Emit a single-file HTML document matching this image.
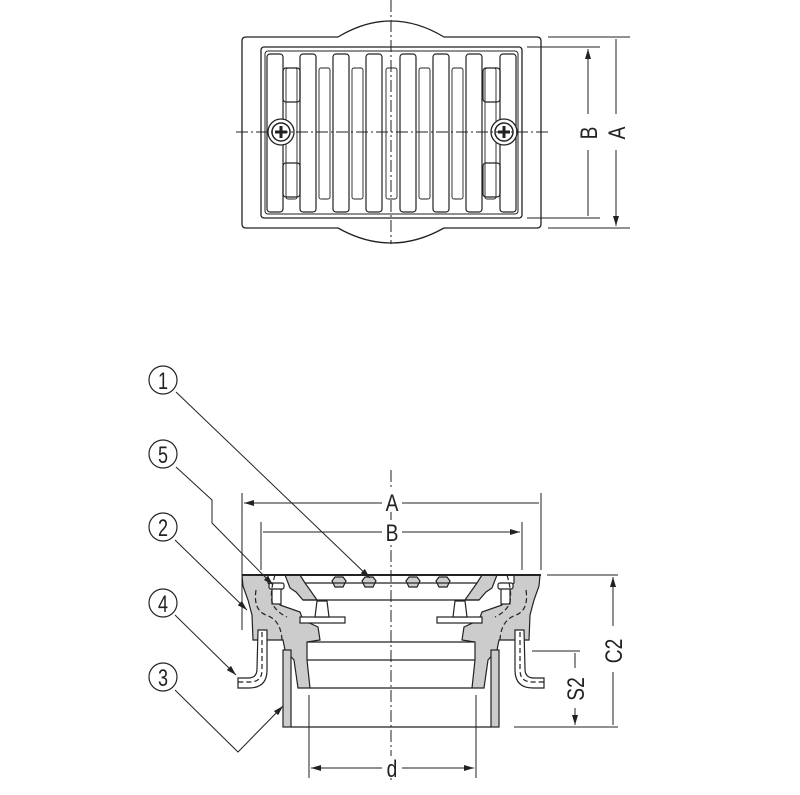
<!DOCTYPE html>
<html><head><meta charset="utf-8"><style>
html,body{margin:0;padding:0;background:#fff}
svg{display:block}
text{font-family:"Liberation Sans",sans-serif;fill:#222}
</style></head><body>
<svg width="800" height="795" viewBox="0 0 800 795" xmlns="http://www.w3.org/2000/svg">
<defs>
<marker id="ar" viewBox="0 0 10 6" refX="10" refY="3" markerWidth="10" markerHeight="6" orient="auto-start-reverse" markerUnits="userSpaceOnUse"><path d="M0,0L10,3L0,6z" fill="#222"/></marker>
</defs>
<g stroke="#222" stroke-width="1.3" fill="none">
<!-- TOP VIEW -->
<path d="M246,37 L338,37 Q391,5 444,37 L537,37 Q541,37 541,41 L541,224 Q541,228 537,228 L444,228 Q391,258 338,228 L246,228 Q242,228 242,224 L242,41 Q242,37 246,37Z"/>
<rect x="261" y="47" width="261" height="171" rx="3"/>
<rect x="265" y="51" width="253" height="163" rx="3" stroke-width="1"/>
<g stroke-width="1.2">
<rect x="267" y="54" width="16" height="158" rx="3"/>
<rect x="300" y="54" width="16" height="158" rx="3"/>
<rect x="333" y="54" width="16" height="158" rx="3"/>
<rect x="366" y="54" width="16" height="158" rx="3"/>
<rect x="400" y="54" width="16" height="158" rx="3"/>
<rect x="433" y="54" width="16" height="158" rx="3"/>
<rect x="466" y="54" width="16" height="158" rx="3"/>
<rect x="500" y="54" width="16" height="158" rx="3"/>
<rect x="286" y="68" width="11" height="131" rx="2" stroke-width="0.9"/>
<rect x="319" y="68" width="11" height="131" rx="2" stroke-width="0.9"/>
<rect x="352" y="68" width="11" height="131" rx="2" stroke-width="0.9"/>
<rect x="386" y="68" width="11" height="131" rx="2" stroke-width="0.9"/>
<rect x="419" y="68" width="11" height="131" rx="2" stroke-width="0.9"/>
<rect x="452" y="68" width="11" height="131" rx="2" stroke-width="0.9"/>
<rect x="485" y="68" width="11" height="131" rx="2" stroke-width="0.9"/>
<rect x="283" y="68" width="17" height="34" rx="3"/>
<rect x="283" y="163" width="17" height="34" rx="3"/>
<rect x="483" y="68" width="17" height="34" rx="3"/>
<rect x="483" y="163" width="17" height="34" rx="3"/>
</g>
<circle cx="281" cy="132" r="13" fill="#fff"/>
<circle cx="281" cy="132" r="9" stroke-width="1.5"/>
<path d="M275,132h12M281,126v12" stroke-width="3"/>
<circle cx="504" cy="132" r="13" fill="#fff"/>
<circle cx="504" cy="132" r="9" stroke-width="1.5"/>
<path d="M498,132h12M504,126v12" stroke-width="3"/>
<path d="M236,132H548M391,0V244" stroke-dasharray="12,3,2,3" stroke-width="1"/>
<path d="M527,47H600M548,37H630M527,218H600M548,228H630" stroke-width="1"/>
<path d="M588,49V216M616,39V226" marker-start="url(#ar)" marker-end="url(#ar)" stroke-width="1"/>
</g>
<rect x="580" y="114" width="16" height="36" fill="#fff"/>
<rect x="608" y="114" width="16" height="36" fill="#fff"/>
<text transform="translate(597,133) rotate(-90) scale(0.8,1)" font-size="24" text-anchor="middle">B</text>
<text transform="translate(625,133) rotate(-90) scale(0.8,1)" font-size="24" text-anchor="middle">A</text>

<!-- SECTION VIEW -->
<g id="half" stroke="#222" stroke-width="1.2">
<path fill="#ccc" d="M242,575 L268,575 L268,583 L275,590 L280,605 L300,612 L303,620 L318,627 L320,640 L307,642 L307,660 L310,688 L298,688 L294,660 L285,650 L283,640 L253,640 L252,615 L248,600 L243,586Z"/>
<path fill="#ccc" d="M285,575 L300,575 L305,583 L310,590 L317,600 L303,600 L296,592 L290,588Z"/>
<path fill="#ccc" d="M335,577l8,0 3,4 -3,6 -8,0 -3,-6zM365,577l8,0 3,4 -3,6 -8,0 -3,-6z"/>
<rect x="283" y="650" width="8" height="77" fill="#ccc"/>
<rect x="300" y="617" width="45" height="6" fill="#fff"/>
<path fill="#fff" d="M317,601l10,0 2,16 -14,0z"/>
<path fill="none" d="M305,583H391M303,600H391M307,642H391M307,660H391M310,688H391M291,727H391"/>
<rect x="272" y="586" width="9" height="18" fill="#fff"/>
<rect x="269" y="583" width="15" height="6" rx="2" fill="#fff"/>
<path fill="#fff" d="M258,630h9v40q0,18 -18,18h-11v-10h10q9,0 9,-9z"/>
<path fill="none" stroke-dasharray="5,3" d="M262,632v38q0,12 -12,12h-12M256,590q-3,20 10,25q15,5 16,25M275,575q-6,20 -2,30q5,8 14,12"/>
</g>
<use href="#half" transform="translate(782,0) scale(-1,1)"/>
<g stroke="#222" fill="none">
<path d="M242,575H541" stroke-width="2"/>
<path d="M391,470V780" stroke-dasharray="12,3,2,3" stroke-width="1"/>
<path d="M242,493V630M541,493V570M261,522V570M522,522V570" stroke-width="1"/>
<path d="M244,503H539M263,532H520" marker-start="url(#ar)" marker-end="url(#ar)" stroke-width="1"/>
<path d="M309,695V778M476,695V778" stroke-width="1"/>
<path d="M311,768H474" marker-start="url(#ar)" marker-end="url(#ar)" stroke-width="1"/>
<path d="M547,575H618M514,727H618M532,651H580" stroke-width="1"/>
<path d="M613,577V725M575,653V725" marker-start="url(#ar)" marker-end="url(#ar)" stroke-width="1"/>
<g stroke-width="1">
<path d="M176,392L370,578" marker-end="url(#ar)"/>
<path d="M176,467L212,500V523L273,585" marker-end="url(#ar)"/>
<path d="M175,540L247,610" marker-end="url(#ar)"/>
<path d="M175,615L236,675" marker-end="url(#ar)"/>
<path d="M175,690L238,752L283,706" marker-end="url(#ar)"/>
</g>
<g stroke-width="1.2">
<circle cx="163" cy="380" r="14"/><circle cx="163" cy="454" r="14"/><circle cx="163" cy="527" r="14"/><circle cx="163" cy="603" r="14"/><circle cx="163" cy="677" r="14"/>
</g>
</g>
<rect x="382" y="490" width="20" height="22" fill="#fff"/>
<rect x="382" y="520" width="20" height="22" fill="#fff"/>
<rect x="382" y="756" width="20" height="22" fill="#fff"/>
<rect x="602" y="626" width="22" height="46" fill="#fff"/>
<rect x="564" y="668" width="22" height="40" fill="#fff"/>
<text transform="translate(392,511) scale(0.8,1)" font-size="24" text-anchor="middle">A</text>
<text transform="translate(392,541) scale(0.8,1)" font-size="24" text-anchor="middle">B</text>
<text transform="translate(392,777) scale(0.8,1)" font-size="24" text-anchor="middle">d</text>
<text transform="translate(622,651) rotate(-90) scale(0.8,1)" font-size="24" text-anchor="middle">C2</text>
<text transform="translate(584,689) rotate(-90) scale(0.8,1)" font-size="24" text-anchor="middle">S2</text>
<g font-size="24" text-anchor="middle">
<text transform="translate(163,389) scale(0.75,1)">1</text>
<text transform="translate(163,463) scale(0.75,1)">5</text>
<text transform="translate(163,536) scale(0.75,1)">2</text>
<text transform="translate(163,612) scale(0.75,1)">4</text>
<text transform="translate(163,686) scale(0.75,1)">3</text>
</g>
</svg>
</body></html>
